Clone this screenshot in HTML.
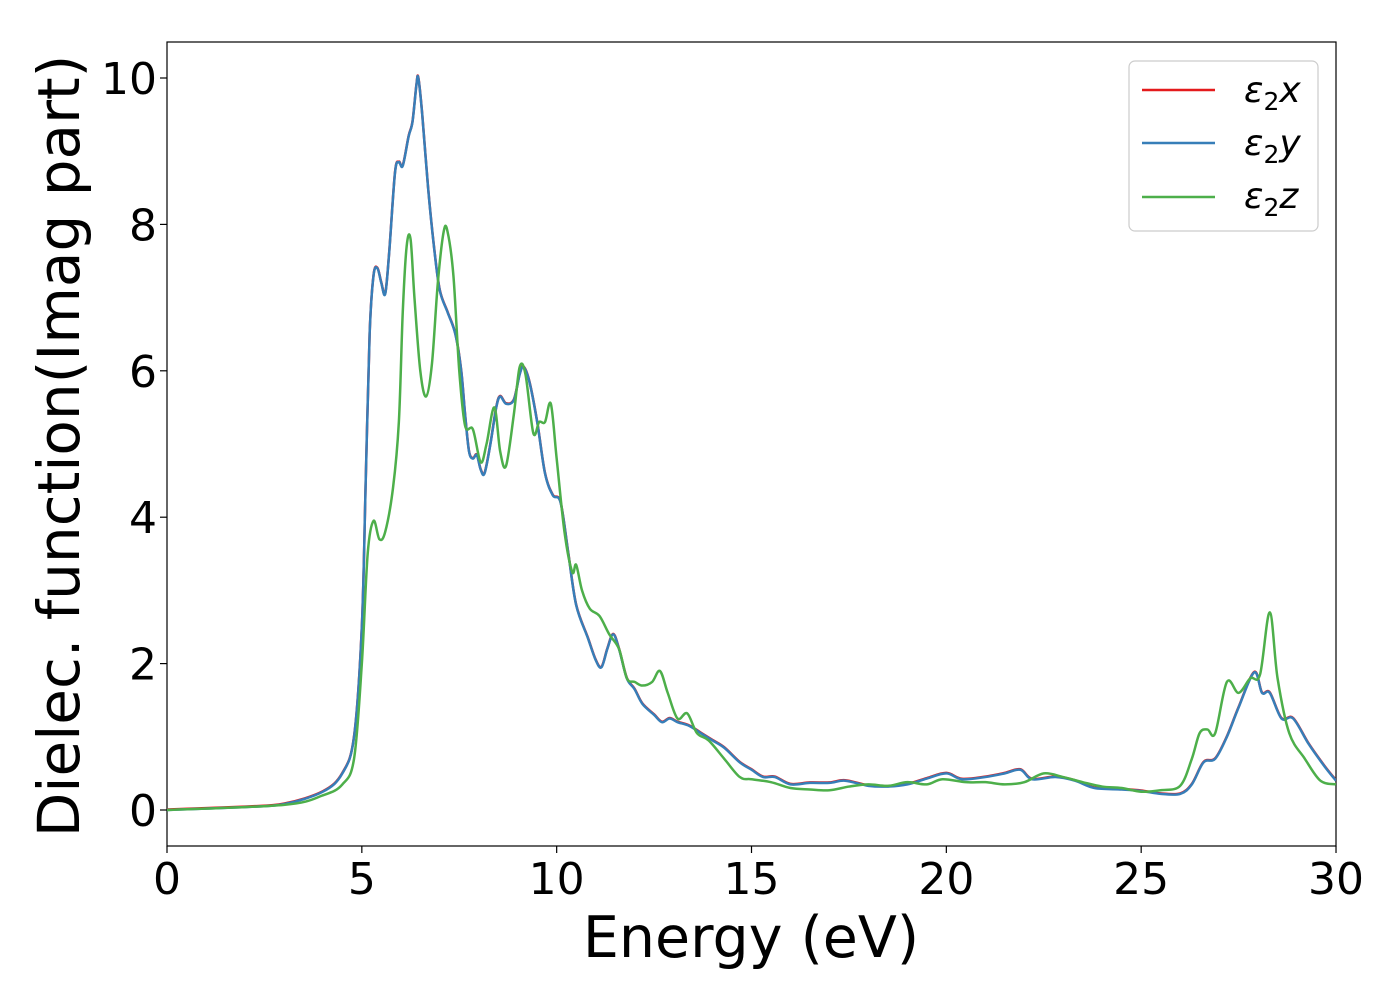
<!DOCTYPE html>
<html><head><meta charset="utf-8"><style>
body{margin:0;background:#fff;width:1400px;height:1000px;overflow:hidden}
svg text{font-family:"DejaVu Sans","Liberation Sans",sans-serif;fill:#000}
</style></head><body>
<svg id="s" width="1400" height="1000" xmlns="http://www.w3.org/2000/svg">
<rect x="167" y="42" width="1169" height="804" fill="#fff" stroke="#000" stroke-width="1.2"/>
<g id="ticks"></g>
<g clip-path="url(#c)">
<path id="red" fill="none" stroke="#e41a1c" stroke-width="2.5"/>
<path id="blue" fill="none" stroke="#377eb8" stroke-width="2.5"/>
<path id="green" fill="none" stroke="#4daf4a" stroke-width="2.5"/>
</g>
<defs><clipPath id="c"><rect x="167" y="42" width="1169" height="804"/></clipPath></defs>
<text x="751" y="957" font-size="57" text-anchor="middle">Energy (eV)</text>
<text transform="translate(79,446) rotate(-90)" font-size="58" text-anchor="middle">Dielec. function(Imag part)</text>
<rect x="1129" y="61" width="189" height="170" rx="6" fill="#fff" stroke="#ccc" stroke-width="1.2"/>
<line x1="1142" y1="90" x2="1215" y2="90" stroke="#e41a1c" stroke-width="2.5"/>
<line x1="1142" y1="143" x2="1215" y2="143" stroke="#377eb8" stroke-width="2.5"/>
<line x1="1142" y1="197" x2="1215" y2="197" stroke="#4daf4a" stroke-width="2.5"/>
<text x="1244" y="102" font-size="36" font-style="italic">ε<tspan font-size="25" font-style="normal" dy="8">2</tspan><tspan dy="-8">x</tspan></text>
<text x="1244" y="155" font-size="36" font-style="italic">ε<tspan font-size="25" font-style="normal" dy="8">2</tspan><tspan dy="-8">y</tspan></text>
<text x="1244" y="208" font-size="36" font-style="italic">ε<tspan font-size="25" font-style="normal" dy="8">2</tspan><tspan dy="-8">z</tspan></text>
</svg>
<script>
var X=function(v){return 167+v*38.967},Y=function(v){return 810-v*73.2};
var t='';
for(var i=0;i<=6;i++){var x=X(i*5);t+='<line x1="'+x+'" y1="846" x2="'+x+'" y2="853" stroke="#000" stroke-width="1.2"/><text x="'+x+'" y="894" font-size="44" text-anchor="middle">'+(i*5)+'</text>';}
for(var i=0;i<=5;i++){var y=Y(i*2);t+='<line x1="160" y1="'+y+'" x2="167" y2="'+y+'" stroke="#000" stroke-width="1.2"/><text x="157" y="'+(y+16)+'" font-size="44" text-anchor="end">'+(i*2)+'</text>';}
document.getElementById('ticks').innerHTML=t;
var B=[0,0,2,0.04,3,0.08,4,0.25,4.5,0.5,4.8,1.0,5.0,2.5,5.1,4.5,5.2,6.5,5.3,7.3,5.4,7.4,5.5,7.2,5.6,7.05,5.7,7.6,5.85,8.7,5.95,8.85,6.05,8.8,6.2,9.2,6.3,9.4,6.4,9.9,6.45,10.0,6.55,9.5,6.7,8.5,6.85,7.7,7.0,7.1,7.2,6.8,7.4,6.5,7.55,6.0,7.65,5.4,7.75,4.9,7.85,4.8,7.95,4.85,8.05,4.65,8.15,4.6,8.3,5.0,8.45,5.5,8.55,5.65,8.7,5.55,8.9,5.6,9.05,5.95,9.15,6.05,9.3,5.85,9.5,5.3,9.7,4.6,9.9,4.3,10.1,4.2,10.3,3.5,10.5,2.8,10.8,2.35,11.0,2.05,11.15,1.95,11.3,2.2,11.45,2.4,11.6,2.2,11.8,1.8,12.0,1.65,12.2,1.45,12.5,1.3,12.7,1.2,12.9,1.25,13.1,1.2,13.4,1.15,13.7,1.05,14.0,0.95,14.3,0.85,14.7,0.65,15.0,0.55,15.3,0.45,15.6,0.45,16.0,0.35,16.5,0.37,17,0.37,17.4,0.4,18,0.33,18.5,0.32,19,0.35,19.5,0.43,20,0.5,20.4,0.42,21,0.45,21.5,0.5,21.9,0.55,22.2,0.42,22.8,0.45,23.3,0.4,23.8,0.3,24.5,0.28,25,0.26,25.5,0.22,26,0.22,26.3,0.35,26.6,0.65,26.9,0.7,27.2,1.0,27.5,1.4,27.9,1.88,28.1,1.6,28.3,1.6,28.6,1.25,28.9,1.25,29.3,0.9,29.7,0.6,30,0.4];
var G=[0,0,3,0.07,4,0.2,4.5,0.35,4.8,0.7,5.0,2.0,5.15,3.5,5.3,3.95,5.45,3.7,5.6,3.8,5.8,4.4,5.95,5.3,6.05,6.8,6.15,7.7,6.25,7.8,6.35,7.0,6.5,6.0,6.65,5.65,6.8,6.1,6.95,7.2,7.1,7.9,7.2,7.9,7.35,7.3,7.5,6.0,7.65,5.25,7.85,5.2,8.05,4.75,8.2,5.0,8.4,5.5,8.55,4.9,8.7,4.7,8.9,5.4,9.05,6.05,9.2,5.95,9.4,5.15,9.55,5.3,9.7,5.3,9.85,5.55,10.0,4.8,10.2,3.8,10.4,3.25,10.5,3.35,10.65,3.0,10.85,2.75,11.1,2.65,11.35,2.4,11.6,2.2,11.8,1.8,12.0,1.75,12.2,1.7,12.45,1.75,12.65,1.9,12.85,1.6,13.1,1.25,13.35,1.32,13.6,1.05,13.9,0.95,14.3,0.7,14.7,0.45,15.0,0.42,15.5,0.38,16,0.3,16.5,0.28,17,0.27,17.5,0.32,18,0.35,18.5,0.33,19,0.38,19.5,0.35,19.9,0.42,20.5,0.38,21,0.38,21.5,0.35,22,0.38,22.5,0.5,23,0.45,23.5,0.38,24,0.32,24.5,0.3,25,0.25,25.5,0.27,26,0.33,26.3,0.7,26.5,1.05,26.7,1.1,26.9,1.05,27.2,1.75,27.5,1.6,27.8,1.8,28.05,1.85,28.3,2.7,28.5,1.8,28.8,1.05,29.2,0.7,29.6,0.4,30,0.35];
function path(a,dy){var p=[];for(var i=0;i<a.length;i+=2)p.push([X(a[i]),Y(a[i+1])+(dy||0)]);
var d='M'+p[0][0]+','+p[0][1];
for(var i=0;i<p.length-1;i++){var p0=p[i-1]||p[i],p1=p[i],p2=p[i+1],p3=p[i+2]||p2;
d+=' C'+(p1[0]+(p2[0]-p0[0])/6)+','+(p1[1]+(p2[1]-p0[1])/6)+' '+(p2[0]-(p3[0]-p1[0])/6)+','+(p2[1]-(p3[1]-p1[1])/6)+' '+p2[0]+','+p2[1];}
return d;}
document.getElementById('red').setAttribute('d',path(B,-0.5));
document.getElementById('blue').setAttribute('d',path(B));
document.getElementById('green').setAttribute('d',path(G));
</script>
</body></html>
